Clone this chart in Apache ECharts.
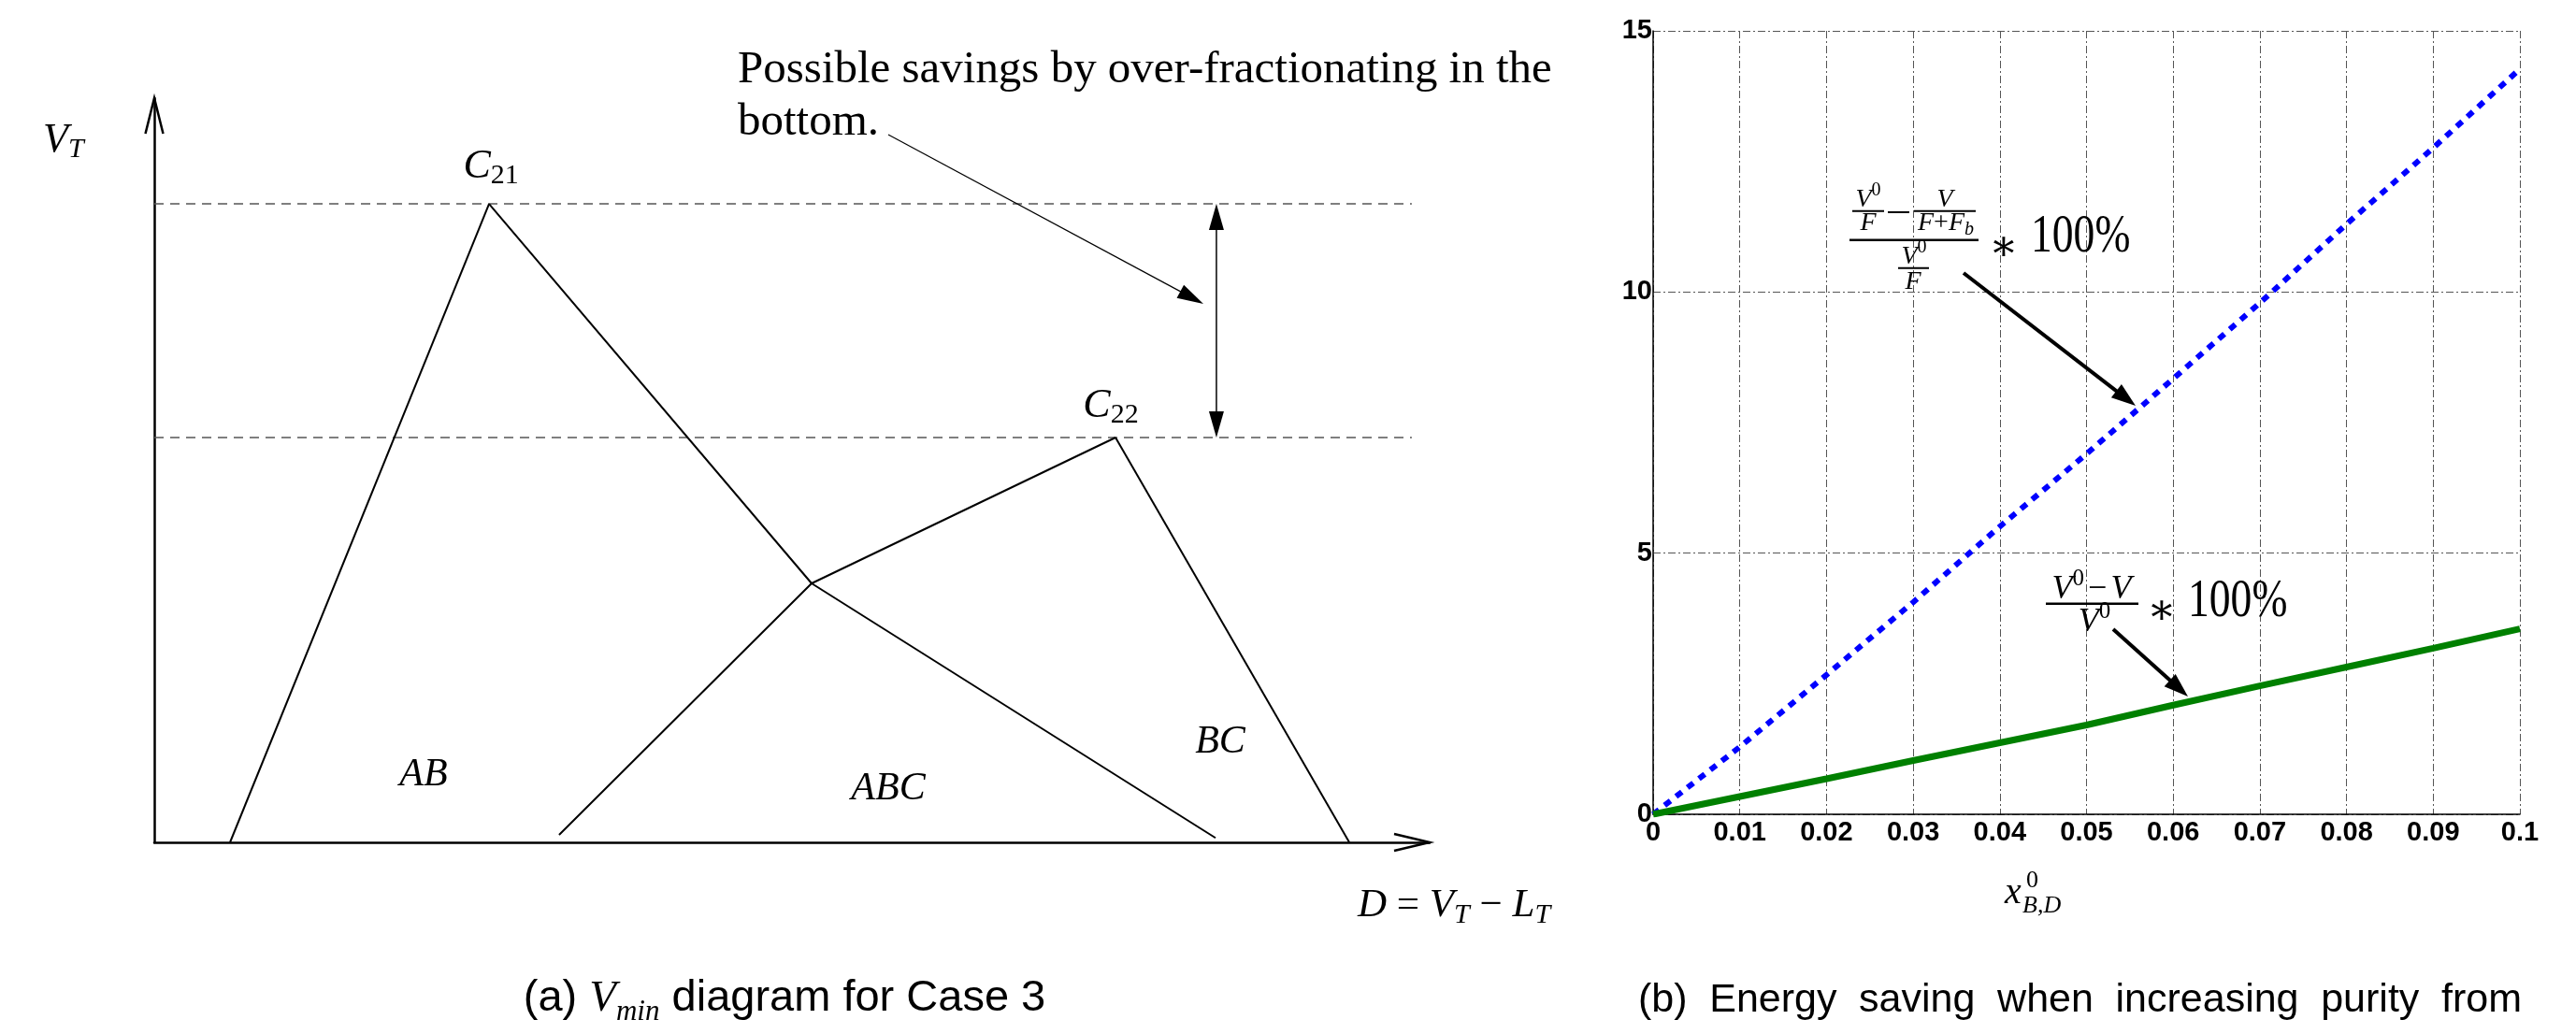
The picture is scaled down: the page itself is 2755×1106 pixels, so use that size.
<!DOCTYPE html>
<html><head><meta charset="utf-8">
<script src="https://cdn.jsdelivr.net/npm/echarts@6/dist/echarts.min.js"></script>
<style>html,body{margin:0;padding:0;background:#fff}#c{width:2755px;height:1106px}</style>
</head><body><div id="c"></div>
<script>
// ---------------- DATA ----------------
// (a) Vmin diagram (schematic units: D on 0..100, V_T on 0..100)
const regionLabels = ['AB', 'ABC', 'BC'];
const peakLabels = ['21', '22'];
const lineAB  = [[5.94, 0], [26.25, 85.8]];
const lineC21 = [[26.25, 85.8], [51.54, 34.8], [83.21, 0.6]];
const lineABC = [[31.74, 1.0], [51.54, 34.8], [75.37, 54.4]];
const lineBC  = [[75.37, 54.4], [93.7, 0]];
const peakC21 = 85.8;
const peakC22 = 54.4;
const dashEndX = 98.6;
const savingsArrowX = 83.28;

// (b) Energy saving vs x^0_{B,D}
const xPurity = [0, 0.01, 0.02, 0.03, 0.04, 0.05, 0.06, 0.07, 0.08, 0.09, 0.1];
const savingFeed   = [0, 1.29, 2.67, 4.06, 5.51, 6.90, 8.34, 9.79, 11.30, 12.76, 14.27];
const savingVapour = [0, 0.34, 0.68, 1.03, 1.37, 1.71, 2.09, 2.46, 2.82, 3.18, 3.55];
const xTickLabels = ['0', '0.01', '0.02', '0.03', '0.04', '0.05', '0.06', '0.07', '0.08', '0.09', '0.1'];
const yTickLabels = ['0', '5', '10', '15'];

// ---------------- CHART ----------------
const SERIF = "'Liberation Serif','DejaVu Serif',serif";
const SANS = "'Liberation Sans',Arial,sans-serif";
const chart = echarts.init(document.getElementById('c'), null, {renderer: 'canvas'});

const blackLine = {color: '#000', width: 2};
function diagramSeries(data) {
  return {type: 'line', xAxisIndex: 0, yAxisIndex: 0, data: data, symbol: 'none', silent: true,
          lineStyle: blackLine, z: 3};
}
function dashSeries(y) {
  return {type: 'line', xAxisIndex: 0, yAxisIndex: 0, data: [[0, y], [dashEndX, y]], symbol: 'none', silent: true,
          lineStyle: {color: '#555', width: 1.5, type: [10, 7]}, z: 2};
}
const axisLabelStyle = {fontFamily: SANS, fontWeight: 'bold', fontSize: 29, color: '#000'};

const option = {
  animation: false,
  backgroundColor: '#fff',
  grid: [
    {left: 165, top: 105, width: 1364, height: 796},
    {left: 1768, top: 33, width: 927, height: 838}
  ],
  xAxis: [
    {gridIndex: 0, type: 'value', min: 0, max: 100,
     axisLine: {show: true, onZero: false, lineStyle: {color: '#000', width: 2.5}},
     axisTick: {show: false}, axisLabel: {show: false}, splitLine: {show: false}},
    {gridIndex: 1, type: 'value', min: 0, max: 0.1, interval: 0.01,
     axisLine: {show: true, onZero: false, lineStyle: {color: '#000', width: 1.5}},
     axisTick: {show: false},
     axisLabel: Object.assign({margin: 5, formatter: v => xTickLabels[Math.round(v / 0.01)]}, axisLabelStyle),
     splitLine: {show: true, lineStyle: {color: '#555', width: 1, type: [8, 3, 2, 3]}}}
  ],
  yAxis: [
    {gridIndex: 0, type: 'value', min: 0, max: 100,
     axisLine: {show: true, onZero: false, lineStyle: {color: '#000', width: 2.5}},
     axisTick: {show: false}, axisLabel: {show: false}, splitLine: {show: false}},
    {gridIndex: 1, type: 'value', min: 0, max: 15, interval: 5,
     axisLine: {show: true, onZero: false, lineStyle: {color: '#000', width: 1.5}},
     axisTick: {show: false},
     axisLabel: Object.assign({margin: 1, formatter: v => yTickLabels[Math.round(v / 5)]}, axisLabelStyle),
     splitLine: {show: true, lineStyle: {color: '#555', width: 1, type: [8, 3, 2, 3]}}}
  ],
  series: [
    dashSeries(peakC21), dashSeries(peakC22),
    diagramSeries(lineAB), diagramSeries(lineC21), diagramSeries(lineABC), diagramSeries(lineBC),
    {type: 'line', xAxisIndex: 1, yAxisIndex: 1, symbol: 'none', silent: true, z: 4,
     data: xPurity.map((x, i) => [x, savingFeed[i]]),
     lineStyle: {color: '#0000ff', width: 6, type: [8, 7.5], cap: 'butt'}},
    {type: 'line', xAxisIndex: 1, yAxisIndex: 1, symbol: 'none', silent: true, z: 4,
     data: xPurity.map((x, i) => [x, savingVapour[i]]),
     lineStyle: {color: '#008000', width: 7}}
  ]
};
chart.setOption(option);

// ---------------- ANNOTATIONS ----------------
const mctx = document.createElement('canvas').getContext('2d');
function fontStr(p) { return (p.it ? 'italic ' : '') + (p.bold ? 'bold ' : '') + p.fs + 'px ' + (p.fam || SERIF); }
function measure(p) { mctx.font = fontStr(p); return mctx.measureText(p.t).width * (p.sx || 1); }
function txt(p, x, base) {
  return {type: 'text', x: x, y: base + (p.dy || 0) - 0.31 * p.fs, scaleX: p.sx || 1, silent: true, z: 10,
    style: {text: p.t, fontSize: p.fs, fontFamily: p.fam || SERIF, fontStyle: p.it ? 'italic' : 'normal',
            fontWeight: p.bold ? 'bold' : 'normal', fill: '#000', align: 'left', verticalAlign: 'middle'}};
}
function row(pieces, x, base, align) {
  const ws = pieces.map(p => measure(p) + (p.kern || 0));
  const tot = ws.reduce((a, b) => a + b, 0);
  let sx = align === 'center' ? x - tot / 2 : (align === 'right' ? x - tot : x);
  const els = [];
  pieces.forEach((p, i) => { els.push(txt(p, sx + (p.pre || 0), base)); sx += ws[i]; });
  return els;
}
function line(x1, y1, x2, y2, w, color) {
  return {type: 'line', silent: true, z: 10, shape: {x1, y1, x2, y2}, style: {stroke: color || '#000', lineWidth: w}};
}
function head(tx, ty, fx, fy, L, W) {
  const dx = tx - fx, dy = ty - fy, len = Math.hypot(dx, dy), ux = dx / len, uy = dy / len;
  const bx = tx - ux * L, by = ty - uy * L;
  return {type: 'polygon', silent: true, z: 11,
    shape: {points: [[tx, ty], [bx - uy * W, by + ux * W], [bx + uy * W, by - ux * W]]}, style: {fill: '#000'}};
}
function arrow(fx, fy, tx, ty, w, L, W) {
  const len = Math.hypot(tx - fx, ty - fy);
  const ex = tx - (tx - fx) / len * L * 0.8, ey = ty - (ty - fy) / len * L * 0.8;
  return [line(fx, fy, ex, ey, w), head(tx, ty, fx, fy, L, W)];
}
function openHead(tx, ty, ax, ay, bx, by) {
  return {type: 'polyline', silent: true, z: 10, shape: {points: [[ax, ay], [tx, ty], [bx, by]]},
          style: {stroke: '#000', lineWidth: 2.5, fill: null}};
}

const g = [];
const P = (x, y) => chart.convertToPixel({gridIndex: 0}, [x, y]);
const yTop = P(0, 100), xEnd = P(100, 0);
// axis arrowheads (open)
g.push(openHead(yTop[0], yTop[1], yTop[0] - 9.5, yTop[1] + 38, yTop[0] + 9.5, yTop[1] + 38));
g.push(openHead(xEnd[0], xEnd[1], xEnd[0] - 38, xEnd[1] - 9, xEnd[0] - 38, xEnd[1] + 9));

// labels of panel (a)
g.push(...row([{t: 'V', fs: 44, it: 1}, {t: 'T', fs: 30, it: 1, dy: 5}], 46, 164, 'left'));
const c21 = P(lineAB[1][0], peakC21), c22 = P(lineBC[0][0], peakC22);
g.push(...row([{t: 'C', fs: 44, it: 1}, {t: peakLabels[0], fs: 30, dy: 5}], c21[0] + 2, c21[1] - 26, 'center'));
g.push(...row([{t: 'C', fs: 44, it: 1}, {t: peakLabels[1], fs: 30, dy: 5}], c22[0] - 5, c22[1] - 20, 'center'));
g.push(...row([{t: regionLabels[0], fs: 42, it: 1}], 453, 842, 'center'));
g.push(...row([{t: regionLabels[1], fs: 42, it: 1}], 950, 857, 'center'));
g.push(...row([{t: regionLabels[2], fs: 42, it: 1}], 1305, 807, 'center'));
g.push(...row([{t: 'D', fs: 43, it: 1}, {t: ' = ', fs: 43}, {t: 'V', fs: 43, it: 1}, {t: 'T', fs: 30, it: 1, dy: 6},
               {t: ' − ', fs: 43}, {t: 'L', fs: 43, it: 1}, {t: 'T', fs: 30, it: 1, dy: 6}], 1452, 982, 'left'));

// "Possible savings" note, fitted to width
const note1 = 'Possible savings by over-fractionating in the';
let nfs = 48 * 871 / measure({t: note1, fs: 48});
nfs = Math.max(44, Math.min(54, nfs));
g.push(...row([{t: note1, fs: nfs}], 789, 90, 'left'));
g.push(...row([{t: 'bottom.', fs: nfs}], 789, 146, 'left'));
g.push(...arrow(950, 144, 1287, 325, 1.2, 28, 8));
// double arrow between the two peaks
const da1 = P(savingsArrowX, peakC21), da2 = P(savingsArrowX, peakC22);
g.push(line(da1[0], da1[1] + 20, da2[0], da2[1] - 20, 1.5));
g.push(head(da1[0], da1[1], da1[0], da2[1], 28, 8));
g.push(head(da2[0], da2[1], da2[0], da1[1], 28, 8));

// caption (a), fitted to reference width
(function () {
  let fs = 44;
  const mk = f => [{t: '(a) ', fs: f, fam: SANS}, {t: 'V', fs: f, it: 1, fam: SERIF}, {t: 'min', fs: f * 0.66, it: 1, dy: 9, fam: SERIF},
                   {t: ' diagram for Case 3', fs: f, fam: SANS}];
  const w = mk(fs).reduce((a, p) => a + measure(p), 0);
  fs = Math.max(40, Math.min(47, fs * 560 / w));
  g.push(...row(mk(fs), 839, 1083, 'center'));
})();

// ---- panel (b) annotations ----
// formula 1: (V0/F - V/(F+Fb)) / (V0/F) * 100%
g.push(...row([{t: 'V', fs: 28, it: 1}, {t: '0', fs: 20, dy: -12}], 1998, 222, 'center'));
g.push(line(1981, 225.7, 2015, 225.7, 2));
g.push(...row([{t: 'F', fs: 28, it: 1}], 1998, 247, 'center'));
g.push(line(2019, 227, 2042, 227, 2));
g.push(...row([{t: 'V', fs: 28, it: 1}], 2080, 222, 'center'));
g.push(line(2047, 225.7, 2113, 225.7, 2));
g.push(...row([{t: 'F', fs: 28, it: 1}, {t: '+', fs: 28}, {t: 'F', fs: 28, it: 1}, {t: 'b', fs: 20, it: 1, dy: 5}], 2081, 247, 'center'));
g.push(line(1978, 256.7, 2116, 256.7, 2.5));
g.push(...row([{t: 'V', fs: 28, it: 1}, {t: '0', fs: 20, dy: -12}], 2047, 283, 'center'));
g.push(line(2030, 286.7, 2063, 286.7, 2));
g.push(...row([{t: 'F', fs: 28, it: 1}], 2046, 310, 'center'));
g.push({type: 'text', x: 2143, y: 266, silent: true, z: 10,
        style: {text: '∗', fontSize: 46, fontFamily: "'DejaVu Serif',serif", fill: '#000', align: 'center', verticalAlign: 'middle'}});
g.push(...row([{t: '100%', fs: 57, sx: 0.8}], 2172, 272, 'left'));
g.push(...arrow(2100, 292, 2284, 434, 4, 26, 9));

// formula 2: (V0 - V)/V0 * 100%
g.push(...row([{t: 'V', fs: 36, it: 1}, {t: '0', fs: 25, dy: -15}, {t: '−', fs: 36, kern: 8, pre: 4}, {t: 'V', fs: 36, it: 1}], 2237, 642, 'center'));
g.push(line(2188, 645.7, 2287, 645.7, 2.5));
g.push(...row([{t: 'V', fs: 36, it: 1}, {t: '0', fs: 25, dy: -15}], 2240, 677, 'center'));
g.push({type: 'text', x: 2312, y: 655, silent: true, z: 10,
        style: {text: '∗', fontSize: 46, fontFamily: "'DejaVu Serif',serif", fill: '#000', align: 'center', verticalAlign: 'middle'}});
g.push(...row([{t: '100%', fs: 57, sx: 0.8}], 2340, 662, 'left'));
g.push(...arrow(2260, 673, 2340, 745, 4, 26, 9));

// x-axis name x^0_{B,D}
g.push(...row([{t: 'x', fs: 40, it: 1}], 2144, 968, 'left'));
g.push(...row([{t: '0', fs: 26}], 2167, 950, 'left'));
g.push(...row([{t: 'B,D', fs: 26, it: 1}], 2163, 977, 'left'));

// caption (b), justified
(function () {
  const words = '(b) Energy saving when increasing purity from'.split(' ');
  const fs = 43, x0 = 1752, x1 = 2697;
  const ws = words.map(w => measure({t: w, fs: fs, fam: SANS}));
  const gap = (x1 - x0 - ws.reduce((a, b) => a + b, 0)) / (words.length - 1);
  let x = x0;
  words.forEach((w, i) => { g.push(txt({t: w, fs: fs, fam: SANS}, x, 1083)); x += ws[i] + gap; });
})();

chart.setOption({graphic: g});
</script>
</body></html>
